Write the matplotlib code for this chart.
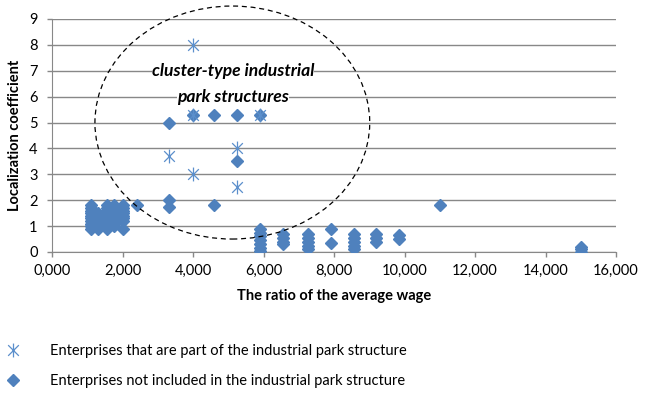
import numpy as np
import matplotlib
matplotlib.use("Agg")
import matplotlib.pyplot as plt
from matplotlib.patches import Ellipse
from matplotlib.path import Path
from matplotlib.lines import Line2D
from matplotlib.ticker import FuncFormatter

plt.rcParams['font.family'] = ['Lato', 'DejaVu Sans']

# enterprises in the industrial park structure (stars)
park_x = [4000, 4000, 3300, 4000, 5250, 5250, 4000, 5900]
park_y = [8.0, 7.0, 3.7, 3.0, 4.0, 2.5, 5.3, 5.3]

# enterprises not in the structure (diamonds)
other_x = ([1100] * 10 + [1300] * 7 + [1550] * 10 + [1750] * 9 + [2000] * 8
           + [2400, 3300, 3300, 4600, 3300, 4000, 4600, 5250, 5900, 5250, 11000]
           + [5900] * 7 + [6550] * 4 + [7250] * 5 + [7900] * 2 + [8550] * 5
           + [9200] * 3 + [9850] * 2 + [15000] * 3)
other_y = ([1.8, 1.7, 1.6, 1.5, 1.4, 1.3, 1.2, 1.1, 1.0, 0.9]
           + [1.5, 1.4, 1.3, 1.2, 1.1, 1.0, 0.9]
           + [1.8, 1.7, 1.6, 1.5, 1.4, 1.3, 1.2, 1.1, 1.0, 0.9]
           + [1.8, 1.7, 1.6, 1.5, 1.4, 1.3, 1.2, 1.1, 1.0]
           + [1.8, 1.7, 1.6, 1.5, 1.4, 1.3, 1.2, 0.9]
           + [1.8, 2.0, 1.75, 1.8, 5.0, 5.3, 5.3, 5.3, 5.3, 3.5, 1.8]
           + [0.9, 0.75, 0.6, 0.45, 0.3, 0.15, 0.05]
           + [0.7, 0.55, 0.4, 0.3]
           + [0.7, 0.55, 0.4, 0.25, 0.1]
           + [0.87, 0.36]
           + [0.7, 0.55, 0.4, 0.25, 0.1]
           + [0.7, 0.55, 0.4]
           + [0.65, 0.5]
           + [0.2, 0.1, 0.0])

label_park = "Enterprises that are part of the industrial park structure"
label_other = "Enterprises not included in the industrial park structure"

blue = '#4F81BD'
grey = '#888888'

# excel-like star: an x with a vertical stroke
star = Path([(-1, -1), (1, 1), (-1, 1), (1, -1), (0, -1.3), (0, 1.3)],
            [Path.MOVETO, Path.LINETO, Path.MOVETO, Path.LINETO, Path.MOVETO, Path.LINETO])

fig = plt.figure(figsize=(6.48, 3.93), dpi=100)
ax = fig.add_axes([0.0807, 0.3588, 0.8699, 0.5929])

ax.plot(other_x, other_y, linestyle='none', marker='D', ms=5.8, color=blue,
        mec=blue, zorder=3)
ax.plot(park_x, park_y, linestyle='none', marker=star, ms=10, mfc='none',
        mec='#5B8FCC', mew=0.9, zorder=4)

ax.set_xlim(0, 16000)
ax.set_ylim(0, 9)
ax.set_xticks(np.arange(0, 16001, 2000))
ax.set_yticks(np.arange(0, 10, 1))
ax.xaxis.set_major_formatter(FuncFormatter(lambda v, p: f"{v/1000:.3f}".replace('.', ',')))
ax.yaxis.grid(True, color=grey, lw=1)
ax.set_axisbelow(True)
for s in ['top', 'right']:
    ax.spines[s].set_visible(False)
for s in ['left', 'bottom']:
    ax.spines[s].set_color(grey)
ax.tick_params(axis='both', colors=grey, labelcolor='black', labelsize=10.5,
               length=3.5, width=1)
ax.tick_params(axis='y', pad=7)
ax.tick_params(axis='x', pad=5)

ax.set_xlabel("The ratio of the average wage", fontsize=10.5, fontweight='bold',
              labelpad=8)
ax.set_ylabel("Localization coefficient", fontsize=10.5, fontweight='bold',
              labelpad=5)

ell = Ellipse((5110, 5.0), 7800, 9.0, fill=False, ls=(0, (4, 3)), lw=0.9,
              color='black', clip_on=False, zorder=5)
ax.add_patch(ell)

for txt, yy in [("cluster-type industrial", 7.0), ("park structures", 6.0)]:
    ax.text(5130, yy, txt, ha='center', va='center', fontsize=12.6,
            fontweight='bold', fontstyle='italic', zorder=6,
            bbox=dict(facecolor='white', edgecolor='none', pad=0.0))

handles = [Line2D([], [], linestyle='none', marker=star, ms=10, mfc='none',
                  mec='#5B8FCC', mew=0.9),
           Line2D([], [], linestyle='none', marker='D', ms=5.8, color=blue)]
fig.legend(handles, [label_park, label_other], loc='upper left',
           bbox_to_anchor=(0.0, 0.14), frameon=False, fontsize=10.5,
           handlelength=1.0, handletextpad=2.0, labelspacing=1.1,
           borderaxespad=0)

fig.savefig("out.png", dpi=100)
